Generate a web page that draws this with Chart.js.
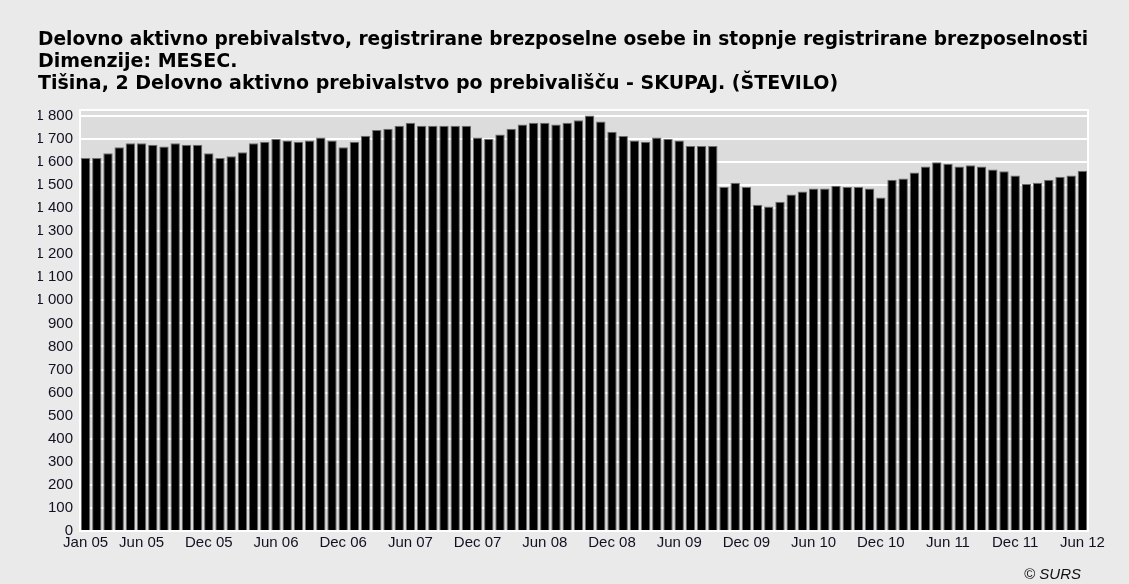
<!DOCTYPE html>
<html>
<head>
<meta charset="utf-8">
<script src="https://cdn.jsdelivr.net/npm/chart.js@4.4.1/dist/chart.umd.min.js"></script>
<style>
    html, body { margin: 0; padding: 0; background: #eaeaea; }
    #wrap { position: relative; width: 1129px; height: 584px; }
    #source { position: absolute; right: 48px; top: 565px; font: italic 15px 'Liberation Sans', Arial, sans-serif; color: #111; }
</style>
</head>
<body>
<div id="wrap">
    <canvas id="chart" width="1129" height="584"></canvas>
    <div id="source">© SURS</div>
</div>
<script>
// monthly categories, Jan 2005 - Jun 2012
const months = [
    'Jan 05', 'Feb 05', 'Mar 05', 'Apr 05', 'May 05', 'Jun 05', 'Jul 05', 'Aug 05', 'Sep 05', 'Oct 05', 'Nov 05', 'Dec 05',
    'Jan 06', 'Feb 06', 'Mar 06', 'Apr 06', 'May 06', 'Jun 06', 'Jul 06', 'Aug 06', 'Sep 06', 'Oct 06', 'Nov 06', 'Dec 06',
    'Jan 07', 'Feb 07', 'Mar 07', 'Apr 07', 'May 07', 'Jun 07', 'Jul 07', 'Aug 07', 'Sep 07', 'Oct 07', 'Nov 07', 'Dec 07',
    'Jan 08', 'Feb 08', 'Mar 08', 'Apr 08', 'May 08', 'Jun 08', 'Jul 08', 'Aug 08', 'Sep 08', 'Oct 08', 'Nov 08', 'Dec 08',
    'Jan 09', 'Feb 09', 'Mar 09', 'Apr 09', 'May 09', 'Jun 09', 'Jul 09', 'Aug 09', 'Sep 09', 'Oct 09', 'Nov 09', 'Dec 09',
    'Jan 10', 'Feb 10', 'Mar 10', 'Apr 10', 'May 10', 'Jun 10', 'Jul 10', 'Aug 10', 'Sep 10', 'Oct 10', 'Nov 10', 'Dec 10',
    'Jan 11', 'Feb 11', 'Mar 11', 'Apr 11', 'May 11', 'Jun 11', 'Jul 11', 'Aug 11', 'Sep 11', 'Oct 11', 'Nov 11', 'Dec 11',
    'Jan 12', 'Feb 12', 'Mar 12', 'Apr 12', 'May 12', 'Jun 12'
];

// Delovno aktivno prebivalstvo po prebivaliscu (stevilo)
const workforce = [
    1617, 1617, 1638, 1663, 1681, 1681, 1674, 1667, 1681, 1674, 1674, 1638,
    1617, 1624, 1642, 1681, 1687, 1699, 1693, 1687, 1693, 1706, 1693, 1663,
    1687, 1713, 1738, 1744, 1757, 1770, 1757, 1757, 1757, 1757, 1757, 1706,
    1699, 1719, 1744, 1762, 1770, 1770, 1762, 1770, 1781, 1801, 1775, 1731,
    1712, 1693, 1687, 1706, 1699, 1693, 1669, 1669, 1669, 1491, 1510, 1491,
    1414, 1407, 1427, 1459, 1472, 1485, 1485, 1497, 1491, 1491, 1485, 1446,
    1523, 1528, 1554, 1580, 1599, 1592, 1580, 1586, 1580, 1567, 1560, 1541,
    1504, 1510, 1523, 1536, 1541, 1562
];

const tickLabels = ['Jan 05', 'Jun 05', 'Dec 05', 'Jun 06', 'Dec 06', 'Jun 07', 'Dec 07', 'Jun 08',
    'Dec 08', 'Jun 09', 'Dec 09', 'Jun 10', 'Dec 10', 'Jun 11', 'Dec 11', 'Jun 12'];

const titleLines = [
    'Delovno aktivno prebivalstvo, registrirane brezposelne osebe in stopnje registrirane brezposelnosti',
    'Dimenzije: MESEC.',
    'Tišina, 2 Delovno aktivno prebivalstvo po prebivališču - SKUPAJ. (ŠTEVILO)'
];

const FONT = "'Liberation Sans', Arial, sans-serif";
const TITLE_FONT = "'DejaVu Sans', Verdana, sans-serif";
const TICK_COLOR = '#111122';

// grey plot background with a white frame
const plotFrame = {
    id: 'plotFrame',
    beforeDraw(chart) {
        const { ctx, chartArea: a } = chart;
        ctx.save();
        ctx.fillStyle = '#dcdcdc';
        ctx.fillRect(a.left, a.top, a.right - a.left, a.bottom - a.top);
        ctx.restore();
    },
    beforeDatasetsDraw(chart) {
        const { ctx, chartArea: a } = chart;
        ctx.save();
        ctx.strokeStyle = '#ffffff';
        ctx.lineWidth = 2;
        ctx.strokeRect(a.left, a.top, a.right - a.left, a.bottom - a.top);
        ctx.restore();
    }
};

function spaced(v) {
    if (v < 1000) return String(v);
    return Math.floor(v / 1000) + ' ' + String(v % 1000).padStart(3, '0');
}

new Chart(document.getElementById('chart'), {
    type: 'bar',
    data: {
        labels: months,
        datasets: [{
            data: workforce,
            backgroundColor: '#000000',
            borderColor: '#6e6e6e',
            borderWidth: 1,
            barPercentage: 0.84,
            categoryPercentage: 1
        }]
    },
    options: {
        responsive: false,
        animation: false,
        layout: { padding: { left: 38, right: 41, top: 0, bottom: 32 } },
        plugins: {
            legend: { display: false },
            tooltip: { enabled: false },
            title: {
                display: true,
                text: titleLines,
                align: 'start',
                color: '#000000',
                font: { family: TITLE_FONT, size: 19, weight: 'bold', lineHeight: 22 / 19 },
                padding: { top: 29, bottom: 15 }
            }
        },
        scales: {
            x: {
                grid: { display: false, drawTicks: false },
                border: { display: false },
                afterFit(scale) {
                    scale.height = 21;
                },
                ticks: {
                    autoSkip: false,
                    maxRotation: 0,
                    minRotation: 0,
                    padding: 3,
                    color: TICK_COLOR,
                    font: { family: FONT, size: 15 },
                    callback(value, index) {
                        const label = months[index];
                        return tickLabels.includes(label) ? label : '';
                    }
                }
            },
            y: {
                min: 0,
                max: 1825,
                afterBuildTicks(scale) {
                    scale.ticks = scale.ticks.filter(t => t.value % 100 === 0);
                },
                afterFit(scale) {
                    scale.width = 42;
                },
                grid: { color: '#ffffff', lineWidth: 2, drawTicks: false },
                border: { display: false },
                ticks: {
                    stepSize: 100,
                    includeBounds: false,
                    padding: 7,
                    color: TICK_COLOR,
                    font: { family: FONT, size: 15 },
                    callback: v => spaced(v)
                }
            }
        }
    },
    plugins: [plotFrame]
});
</script>
</body>
</html>
